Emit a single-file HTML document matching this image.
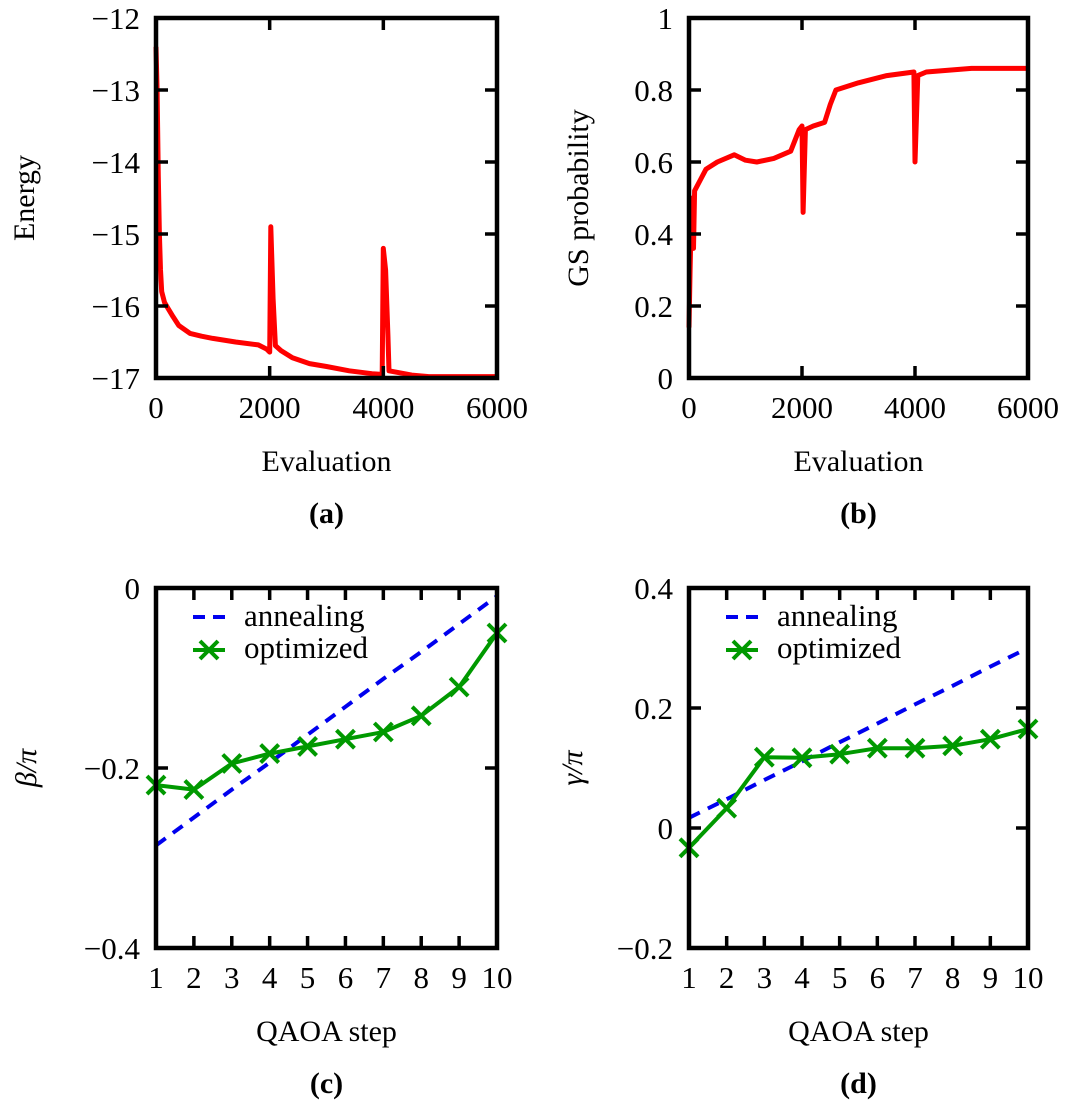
<!DOCTYPE html>
<html><head><meta charset="utf-8"><style>
body{margin:0;background:#fff}
svg text{font-family:"Liberation Serif","DejaVu Serif",serif;fill:#000}
</style></head><body>
<svg id="fig" width="1065" height="1107" viewBox="0 0 1065 1107" xmlns="http://www.w3.org/2000/svg"></svg>
<script>
// Panel (a): energy vs evaluation
const energyEval = [0,20,40,60,80,100,150,200,300,400,600,800,1000,1400,1800,1950,2000,2020,2060,2100,2200,2400,2700,3000,3400,3800,3980,4000,4040,4080,4100,4500,4800,6000];
const energyVal = [-12.4,-13.0,-14.2,-15.0,-15.5,-15.8,-15.95,-16.02,-16.15,-16.27,-16.38,-16.42,-16.45,-16.5,-16.54,-16.6,-16.64,-14.9,-15.9,-16.55,-16.62,-16.72,-16.8,-16.84,-16.9,-16.94,-16.95,-15.2,-15.5,-16.4,-16.9,-16.96,-16.98,-16.98];
// Panel (b): GS probability vs evaluation
const gsEval = [0,20,40,60,80,100,200,300,500,800,1000,1200,1500,1800,1950,2000,2020,2060,2200,2400,2500,2600,2800,3000,3500,3980,4000,4050,4200,5000,6000];
const gsVal = [0.14,0.3,0.45,0.5,0.36,0.52,0.55,0.58,0.6,0.62,0.605,0.6,0.61,0.63,0.69,0.7,0.46,0.69,0.7,0.71,0.76,0.8,0.81,0.82,0.84,0.85,0.6,0.84,0.85,0.86,0.86];
const evalTicks = [0,2000,4000,6000];
const energyTicks = [-12,-13,-14,-15,-16,-17];
const gsTicks = [0,0.2,0.4,0.6,0.8,1];
// Panels (c),(d)
const steps = [1,2,3,4,5,6,7,8,9,10];
const betaAnneal = [-0.286,-0.255,-0.224,-0.194,-0.163,-0.132,-0.101,-0.071,-0.040,-0.009];
const betaOpt = [-0.219,-0.224,-0.195,-0.184,-0.176,-0.168,-0.160,-0.142,-0.110,-0.050];
const gammaAnneal = [0.017,0.048,0.080,0.111,0.143,0.174,0.206,0.237,0.269,0.300];
const gammaOpt = [-0.033,0.033,0.118,0.117,0.123,0.133,0.133,0.137,0.148,0.165];
const betaTicks = [0,-0.2,-0.4];
const gammaTicks = [0.4,0.2,0,-0.2];

const svg = document.getElementById('fig');
const NS = 'http://www.w3.org/2000/svg';
function mk(tag, attrs, parent){const e=document.createElementNS(NS,tag);for(const k in attrs)e.setAttribute(k,attrs[k]);(parent||svg).appendChild(e);return e;}
function fmt(v){return (v<0?'\u2212':'')+String(Math.abs(v));}

function panel(o){
  const g=mk('g',{});
  
  
  const sx=v=>o.L+(v-o.x0)/(o.x1-o.x0)*(o.R-o.L);
  const sy=v=>o.B-(v-o.y0)/(o.y1-o.y0)*(o.B-o.T);
  o.series.forEach(s=>{
    const pts=s.x.map((x,i)=>sx(x).toFixed(1)+','+sy(s.y[i]).toFixed(1)).join(' ');
    const pl=mk('polyline',{points:pts,fill:'none',stroke:s.color,'stroke-width':s.w,'stroke-dasharray':s.dash||'none','stroke-linejoin':'round'},g);
    
    
    if(s.marker){s.x.forEach((x,i)=>{const cx=sx(x),cy=sy(s.y[i]);
      const m=mk('path',{d:`M${cx-9},${cy-9}L${cx+9},${cy+9}M${cx-9},${cy+9}L${cx+9},${cy-9}`,stroke:s.color,'stroke-width':4},g);
      
      
    });}
  });
  o.xt.forEach(v=>{const x=sx(v);
    mk('path',{d:`M${x},${o.B}V${o.B-12}M${x},${o.T}V${o.T+12}`,stroke:'#000','stroke-width':3.5},g);
    const t=mk('text',{x:x,y:o.B+40,'font-size':31,'text-anchor':'middle'},g);t.textContent=fmt(v);
    
    
  });
  o.yt.forEach(v=>{const y=sy(v);
    mk('path',{d:`M${o.L},${y}H${o.L+12}M${o.R},${y}H${o.R-12}`,stroke:'#000','stroke-width':3.5},g);
    const t=mk('text',{x:o.L-16,y:y+11,'font-size':31,'text-anchor':'end'},g);t.textContent=fmt(v);
    
    
  });
  const box=mk('rect',{x:o.L,y:o.T,width:o.R-o.L,height:o.B-o.T,fill:'none',stroke:'#000','stroke-width':4.5},g);
  
  
  const xl=mk('text',{x:(o.L+o.R)/2,y:o.B+93,'font-size':30,'text-anchor':'middle'},g);xl.textContent=o.xlabel;
  
  
  const yx=o.ylx, yy=(o.T+o.B)/2;
  const yl=mk('text',{x:yx,y:yy,'font-size':30,'text-anchor':'middle','font-style':o.yitalic?'italic':'normal',transform:`rotate(-90 ${yx} ${yy})`},g);yl.textContent=o.ylabel;
  
  
  const pl=mk('text',{x:(o.L+o.R)/2,y:o.B+145,'font-size':30,'font-weight':'bold','text-anchor':'middle'},g);pl.textContent=o.tag;
  
  
  if(o.legend){
    const lg=mk('g',{},g);
    
    
    const lx=o.L+37;
    mk('path',{d:`M${lx},${o.T+29}H${lx+34}`,stroke:'#0000ee','stroke-width':4,'stroke-dasharray':'12,8'},lg);
    const t1=mk('text',{x:lx+51,y:o.T+38,'font-size':31},lg);t1.textContent='annealing';
    
    
    const my=o.T+62;
    mk('path',{d:`M${lx},${my}H${lx+32}M${lx+7},${my-9}L${lx+25},${my+9}M${lx+7},${my+9}L${lx+25},${my-9}`,stroke:'#009900','stroke-width':4},lg);
    const t2=mk('text',{x:lx+51,y:o.T+70,'font-size':31},lg);t2.textContent='optimized';
    
    
  }
}
panel({name:'panel-a-energy',L:156,R:497,T:18,B:378,x0:0,x1:6000,y0:-17,y1:-12,xt:evalTicks,yt:energyTicks,xlabel:'Evaluation',ylabel:'Energy',ylx:34,tag:'(a)',
  series:[{name:'energy-line',x:energyEval,y:energyVal,color:'#ff0000',w:5}]});
panel({name:'panel-b-gs-probability',L:689,R:1028,T:18,B:378,x0:0,x1:6000,y0:0,y1:1,xt:evalTicks,yt:gsTicks,xlabel:'Evaluation',ylabel:'GS probability',ylx:588,tag:'(b)',
  series:[{name:'gs-probability-line',x:gsEval,y:gsVal,color:'#ff0000',w:5}]});
panel({name:'panel-c-beta',L:156,R:497,T:588,B:948,x0:1,x1:10,y0:-0.4,y1:0,xt:steps,yt:betaTicks,xlabel:'QAOA step',ylabel:'\u03b2/\u03c0',yitalic:true,ylx:36,tag:'(c)',legend:true,
  series:[{name:'beta-annealing-line',x:steps,y:betaAnneal,color:'#0000ee',w:4,dash:'12,9'},{name:'beta-optimized-line',x:steps,y:betaOpt,color:'#009900',w:4,marker:true}]});
panel({name:'panel-d-gamma',L:689,R:1028,T:588,B:948,x0:1,x1:10,y0:-0.2,y1:0.4,xt:steps,yt:gammaTicks,xlabel:'QAOA step',ylabel:'\u03b3/\u03c0',yitalic:true,ylx:582,tag:'(d)',legend:true,
  series:[{name:'gamma-annealing-line',x:steps,y:gammaAnneal,color:'#0000ee',w:4,dash:'12,9'},{name:'gamma-optimized-line',x:steps,y:gammaOpt,color:'#009900',w:4,marker:true}]});
</script>
</body></html>
